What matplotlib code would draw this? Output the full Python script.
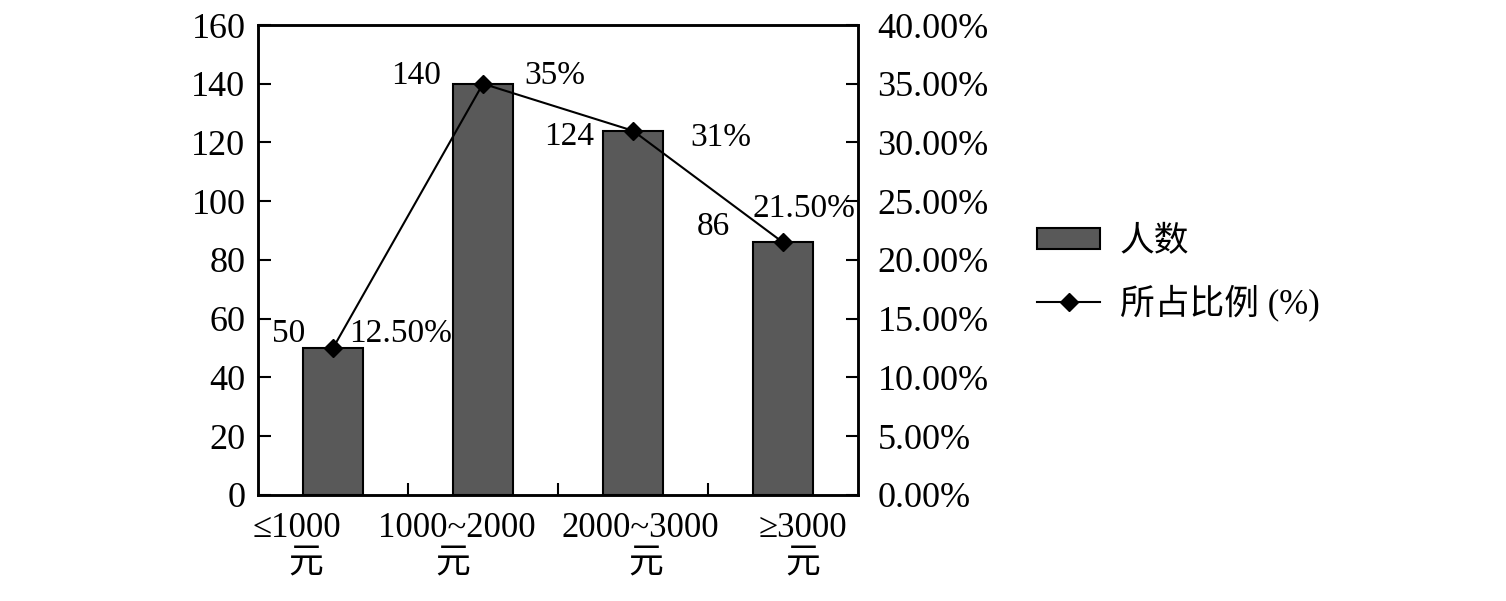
import matplotlib
matplotlib.use("Agg")
import matplotlib.pyplot as plt
from matplotlib.ticker import FuncFormatter, MultipleLocator

plt.rcParams['font.family'] = ['Liberation Serif', 'Noto Sans CJK SC', 'DejaVu Sans']

cat_line1 = ["≤1000", "1000~2000", "2000~3000", "≥3000"]
cat_line2 = ["元", "元", "元", "元"]
counts = [50, 140, 124, 86]
ratios = [12.5, 35.0, 31.0, 21.5]
count_labels = ["50", "140", "124", "86"]
ratio_labels = ["12.50%", "35%", "31%", "21.50%"]
# label offsets (points) from the point: count label, ratio label
count_offsets = [(-32, 10), (-48, 6), (-46, -4), (-50, 11)]
ratio_offsets = [(49, 10), (52, 6), (63, -5), (15, 24)]
# category label offsets (points) below the x-axis
line1_dx = [-26, -19, 5, 14]
line2_dx = [-20, -22, 9, 14]

fs = 26
afs = 24
xfs = 25
fig = plt.figure(figsize=(15.06, 6.01), dpi=100)
ax = fig.add_axes([0.1713, 0.1764, 0.3984, 0.782])
ax2 = ax.twinx()

x = list(range(len(cat_line1)))
ax.bar(x, counts, width=0.4, color="#595959", edgecolor="black", linewidth=1.5, label="人数", zorder=2)
ax.set_xlim(-0.5, len(cat_line1) - 0.5)
ax.set_ylim(0, 160)
ax.yaxis.set_major_locator(MultipleLocator(20))
ax.set_xticks(x)
ax.set_xticklabels([""] * len(x))
ax.tick_params(axis='x', length=0)
ax.set_xticks([i + 0.5 for i in x[:-1]], minor=True)
ax.tick_params(axis='x', which='minor', direction='in', length=9, width=1.5)
ax.tick_params(axis='y', direction='in', length=9, width=1.5, labelsize=fs, pad=9)

for i in x:
    ax.annotate(cat_line1[i], (i, 0), xycoords=('data', 'axes fraction'),
                xytext=(line1_dx[i], -24), textcoords='offset points',
                ha='center', va='center', fontsize=xfs, annotation_clip=False)
    ax.annotate(cat_line2[i], (i, 0), xycoords=('data', 'axes fraction'),
                xytext=(line2_dx[i], -50), textcoords='offset points',
                ha='center', va='center', fontsize=xfs, annotation_clip=False)

ln, = ax2.plot(x, ratios, color="black", linewidth=1.5, marker="D", markersize=9,
               markerfacecolor="black", label="所占比例 (%)", zorder=3)
ax2.set_ylim(0, 40)
ax2.yaxis.set_major_locator(MultipleLocator(5))
ax2.yaxis.set_major_formatter(FuncFormatter(lambda v, p: f"{v:.2f}%"))
ax2.tick_params(axis='y', direction='in', length=9, width=1.5, labelsize=fs, pad=14)

for a in (ax, ax2):
    for s in a.spines.values():
        s.set_linewidth(1.8)

for i in x:
    ax2.annotate(count_labels[i], (i, ratios[i]), xytext=count_offsets[i], textcoords='offset points',
                 ha='center', va='center', fontsize=afs)
    ax2.annotate(ratio_labels[i], (i, ratios[i]), xytext=ratio_offsets[i], textcoords='offset points',
                 ha='center', va='center', fontsize=afs)

handles = [ax.patches[0], ln]
leg = fig.legend(handles, ["人数", "所占比例 (%)"], loc='center left',
                 bbox_to_anchor=(0.668, 0.545), frameon=False, fontsize=25,
                 handlelength=1.8, handleheight=0.55, labelspacing=0.72, handletextpad=0.58)

fig.savefig("out.png", dpi=100)
